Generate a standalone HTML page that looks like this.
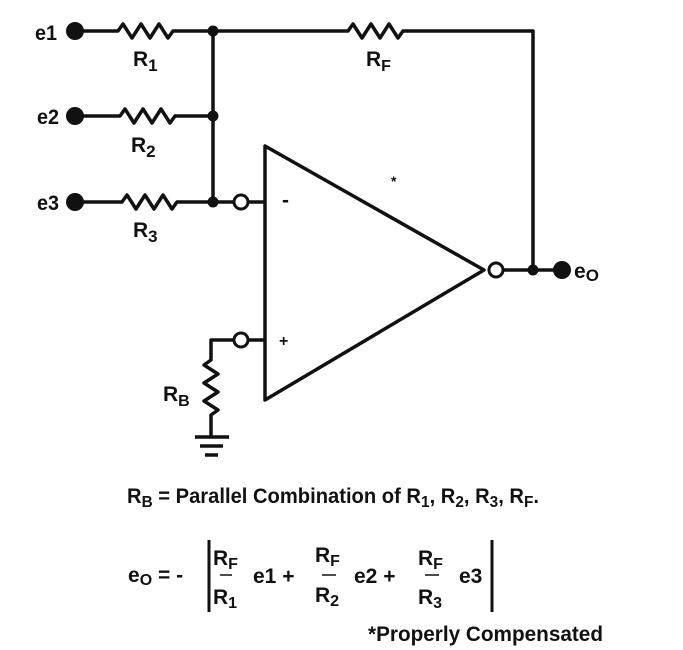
<!DOCTYPE html>
<html><head><meta charset="utf-8"><style>
html,body{margin:0;padding:0;background:#fff;}
svg{display:block;}
text{font-family:"Liberation Sans Narrow","Liberation Sans",sans-serif;font-weight:bold;fill:#111;}
</style></head><body>
<svg width="683" height="650" viewBox="0 0 683 650" xmlns="http://www.w3.org/2000/svg">
<g stroke="#111" stroke-width="3.5" fill="none" stroke-linejoin="round">
<path d="M75 31 H118 l5 -7 l9 14 l9 -14 l9 14 l9 -14 l9 14 l5 -7 H348 l5 -7 l9 14 l9 -14 l9 14 l9 -14 l9 14 l5 -7 H533 V270"/>
<path d="M75 116 H120 l5 -7 l9 14 l9 -14 l9 14 l9 -14 l9 14 l5 -7 H213"/>
<path d="M75 202 H122 l5 -7 l9 14 l9 -14 l9 14 l9 -14 l9 14 l5 -7 H234"/>
<path d="M213 31 V202"/>
<path d="M248 202 H265"/>
<path d="M265 146 V400 L484 270 Z"/>
<path d="M503 270 H560"/>
<path d="M248 340 H265"/>
<path d="M234 340 H211 V360 l-7 5 l14 9 l-14 9 l14 9 l-14 9 l14 9 l-7 5 V437"/>
<path d="M195 437 H229 M200 446 H223 M205 455 H218"/>
<path d="M209 540 V612 M492 540 V612" stroke-width="3"/>
</g>
<g fill="#111">
<circle cx="75" cy="31" r="9"/><circle cx="75" cy="116" r="9"/><circle cx="75" cy="202" r="9"/>
<circle cx="213" cy="31" r="5.5"/><circle cx="213" cy="116" r="5.5"/><circle cx="213" cy="202" r="5.5"/>
<circle cx="533" cy="270" r="5.5"/><circle cx="562" cy="270" r="9"/>
</g>
<g fill="#fff" stroke="#111" stroke-width="3">
<circle cx="241" cy="202" r="7"/><circle cx="241" cy="340" r="7"/><circle cx="496" cy="270" r="7"/>
</g>
<g font-size="21">
<text x="35" y="40" textLength="22" lengthAdjust="spacingAndGlyphs">e1</text>
<text x="37" y="124" textLength="22" lengthAdjust="spacingAndGlyphs">e2</text>
<text x="37" y="210" textLength="22" lengthAdjust="spacingAndGlyphs">e3</text>
<text x="133" y="66">R<tspan font-size="17" dy="5">1</tspan></text>
<text x="131" y="152">R<tspan font-size="17" dy="5">2</tspan></text>
<text x="133" y="237">R<tspan font-size="17" dy="5">3</tspan></text>
<text x="366" y="66">R<tspan font-size="16" dy="5">F</tspan></text>
<text x="163" y="401">R<tspan font-size="16" dy="5">B</tspan></text>
<text x="574" y="278">e<tspan font-size="17" dy="3">O</tspan></text>
<text x="282" y="207">-</text>
<text x="279" y="346" font-size="16">+</text>
<text x="391" y="186" font-size="14">*</text>
</g>
<g font-size="21">
<text x="127" y="503" textLength="412" lengthAdjust="spacingAndGlyphs">R<tspan font-size="16" dy="4">B</tspan><tspan dy="-4"> = Parallel Combination of R</tspan><tspan font-size="16" dy="4">1</tspan><tspan dy="-4">, R</tspan><tspan font-size="16" dy="4">2</tspan><tspan dy="-4">, R</tspan><tspan font-size="16" dy="4">3</tspan><tspan dy="-4">, R</tspan><tspan font-size="16" dy="4">F</tspan><tspan dy="-4">.</tspan></text>
<text x="128" y="582">e<tspan font-size="16" dy="3">O</tspan><tspan dy="-3"> = -</tspan></text>
<text x="213" y="565">R<tspan font-size="16" dy="4">F</tspan></text>
<text x="213" y="604">R<tspan font-size="16" dy="4">1</tspan></text>
<text x="253" y="583">e1 +</text>
<text x="315" y="562">R<tspan font-size="16" dy="4">F</tspan></text>
<text x="315" y="602">R<tspan font-size="16" dy="4">2</tspan></text>
<text x="354" y="583">e2 +</text>
<text x="418" y="565">R<tspan font-size="16" dy="4">F</tspan></text>
<text x="418" y="604">R<tspan font-size="16" dy="4">3</tspan></text>
<text x="459" y="583">e3</text>
<text x="368" y="641" textLength="235" lengthAdjust="spacingAndGlyphs">*Properly Compensated</text>
</g>
<g stroke="#111" stroke-width="1.5">
<path d="M220 575 H232 M322 575 H336 M425 575 H439"/>
</g>
</svg>
</body></html>
